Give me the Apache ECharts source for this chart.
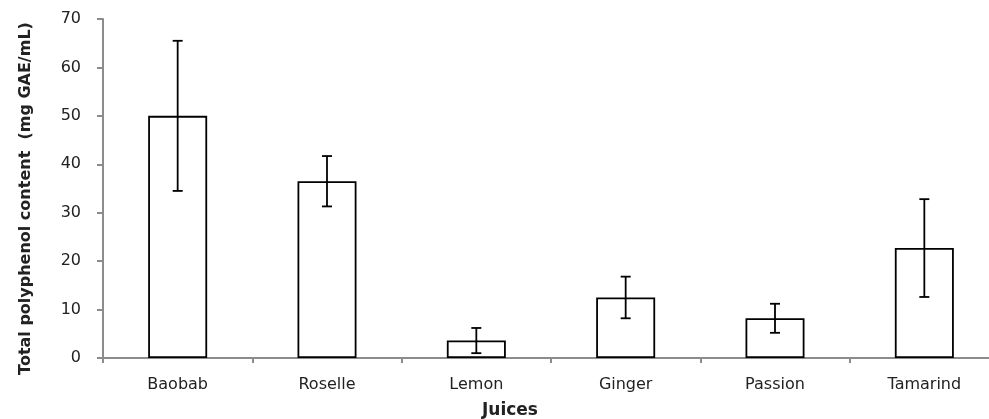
<!DOCTYPE html>
<html>
<head>
<meta charset="utf-8">
<script src="https://cdn.jsdelivr.net/npm/echarts@6/dist/echarts.min.js"></script>
<style>
html,body{margin:0;padding:0;background:#fff;}
#chart{width:989px;height:419px;}
</style>
</head>
<body>
<div id="chart"></div>
<script>
const categories = ['Baobab', 'Roselle', 'Lemon', 'Ginger', 'Passion', 'Tamarind'];
const means = [50.0, 36.5, 3.6, 12.5, 8.2, 22.7];
const errors = [15.5, 5.2, 2.6, 4.3, 3.0, 10.1];
const yTicks = { min: 0, max: 70, interval: 10 };

const chart = echarts.init(document.getElementById('chart'), null, { renderer: 'canvas' });

const errData = categories.map((c, i) => [i, means[i] - errors[i], means[i] + errors[i]]);

const option = {
  animation: false,
  backgroundColor: '#ffffff',
  grid: { left: 103, top: 19, width: 896, height: 339, containLabel: false, outerBoundsMode: 'none' },
  xAxis: {
    type: 'category',
    data: categories,
    name: 'Juices',
    nameLocation: 'middle',
    nameGap: 44,
    nameTextStyle: { fontFamily: 'DejaVu Sans', fontWeight: 'bold', fontSize: 17, color: '#222', padding: [0, 82, 0, 0] },
    axisLine: { lineStyle: { color: '#8c8c8c', width: 2 } },
    axisTick: { show: true, alignWithLabel: false, length: 5, lineStyle: { color: '#8c8c8c', width: 2 } },
    axisLabel: { fontFamily: 'DejaVu Sans', fontSize: 16, color: '#222', margin: 19, interval: 0 },
    splitLine: { show: false }
  },
  yAxis: {
    type: 'value',
    min: yTicks.min, max: yTicks.max, interval: yTicks.interval,
    name: 'Total polyphenol content  (mg GAE/mL)',
    nameLocation: 'middle',
    nameGap: 69,
    nameTextStyle: { fontFamily: 'DejaVu Sans', fontWeight: 'bold', fontSize: 16, color: '#222', padding: [0, 20, 0, 0] },
    axisLine: { show: true, lineStyle: { color: '#8c8c8c', width: 2 } },
    axisTick: { show: true, length: 6, lineStyle: { color: '#8c8c8c', width: 2 } },
    axisLabel: { fontFamily: 'DejaVu Sans', fontSize: 16, color: '#222', margin: 22 },
    splitLine: { show: false }
  },
  series: [
    {
      type: 'bar',
      data: means,
      barWidth: 59,
      itemStyle: { color: '#ffffff', borderColor: '#000', borderWidth: 1.8 },
      z: 2
    },
    {
      type: 'custom',
      data: errData,
      z: 3,
      renderItem: function (params, api) {
        const x = api.value(0);
        const lo = api.coord([x, api.value(1)]);
        const hi = api.coord([x, api.value(2)]);
        const hw = 5;
        const style = { stroke: '#000', lineWidth: 1.8 };
        return {
          type: 'group',
          children: [
            { type: 'line', shape: { x1: hi[0], y1: hi[1], x2: lo[0], y2: lo[1] }, style },
            { type: 'line', shape: { x1: hi[0] - hw, y1: hi[1], x2: hi[0] + hw, y2: hi[1] }, style },
            { type: 'line', shape: { x1: lo[0] - hw, y1: lo[1], x2: lo[0] + hw, y2: lo[1] }, style }
          ]
        };
      }
    }
  ]
};
chart.setOption(option);
</script>
</body>
</html>
